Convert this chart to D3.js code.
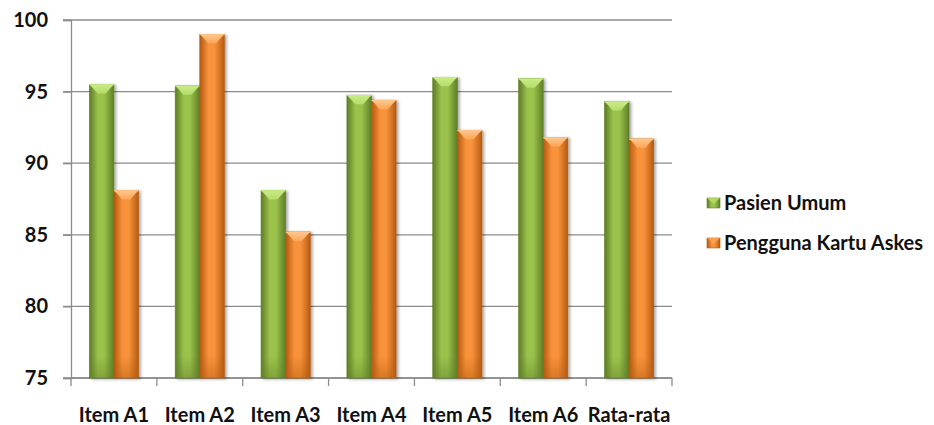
<!DOCTYPE html>
<html>
<head>
<meta charset="utf-8">
<script src="https://cdn.jsdelivr.net/npm/d3@7/dist/d3.min.js"></script>
<style>
  html, body { margin: 0; padding: 0; background: #ffffff; }
  svg { display: block; }
  text { font-family: Lato, "Open Sans", "DejaVu Sans", sans-serif; font-weight: 700; fill: #111; }
</style>
</head>
<body>
<svg id="chart" width="934" height="425"></svg>
<script>
// Survey scores per item for two patient groups
const categories = ["Item A1", "Item A2", "Item A3", "Item A4", "Item A5", "Item A6", "Rata-rata"];
const seriesNames = ["Pasien Umum", "Pengguna Kartu Askes"];
const pasienUmum = [95.5, 95.4, 88.1, 94.75, 96.0, 95.9, 94.3];
const penggunaAskes = [88.1, 99.0, 85.2, 94.4, 92.3, 91.8, 91.7];
const yTicks = [75, 80, 85, 90, 95, 100];

const seriesValues = [pasienUmum, penggunaAskes];
const palettes = [
  { edge: "#5f7f26", mid: "#9bc24c", light: "#b5dc6a", top: "#c9ec86", dark: "#6e9030" },
  { edge: "#b25a10", mid: "#f8923a", light: "#fba55a", top: "#fdc88c", dark: "#c8691c" }
];

const svg = d3.select("#chart");
const margin = { left: 71, right: 262, top: 20, bottom: 47 };
const W = 934, H = 425;
const x0 = d3.scaleBand().domain(categories).range([margin.left, W - margin.right]).paddingInner(0).paddingOuter(0);
const x1 = d3.scaleBand().domain(seriesNames).range([0, x0.bandwidth()]).paddingOuter(0.745).paddingInner(0);
const y = d3.scaleLinear().domain([75, 100]).range([H - margin.bottom, margin.top]);

const defs = svg.append("defs");
palettes.forEach((p, i) => {
  const g = defs.append("linearGradient").attr("id", "body" + i).attr("x1", 0).attr("x2", 1).attr("y1", 0).attr("y2", 0);
  g.append("stop").attr("offset", 0).attr("stop-color", p.edge);
  g.append("stop").attr("offset", 0.1).attr("stop-color", p.dark);
  g.append("stop").attr("offset", 0.35).attr("stop-color", p.mid);
  g.append("stop").attr("offset", 0.6).attr("stop-color", p.mid);
  g.append("stop").attr("offset", 0.9).attr("stop-color", p.dark);
  g.append("stop").attr("offset", 1).attr("stop-color", p.edge);
  const b = defs.append("linearGradient").attr("id", "foot" + i).attr("x1", 0).attr("x2", 0).attr("y1", 0).attr("y2", 1);
  b.append("stop").attr("offset", 0).attr("stop-color", p.edge).attr("stop-opacity", 0);
  b.append("stop").attr("offset", 1).attr("stop-color", p.edge).attr("stop-opacity", 0.45);
  const t = defs.append("linearGradient").attr("id", "cap" + i).attr("x1", 0).attr("x2", 0).attr("y1", 0).attr("y2", 1);
  t.append("stop").attr("offset", 0).attr("stop-color", p.top);
  t.append("stop").attr("offset", 1).attr("stop-color", p.light);
});
const shadow = defs.append("filter").attr("id", "shadow").attr("x", "-20%").attr("y", "-5%").attr("width", "160%").attr("height", "115%");
shadow.append("feGaussianBlur").attr("in", "SourceAlpha").attr("stdDeviation", 1.6);
shadow.append("feOffset").attr("dx", 2).attr("dy", 1).attr("result", "off");
shadow.append("feComponentTransfer").append("feFuncA").attr("type", "linear").attr("slope", 0.35);
const merge = shadow.append("feMerge");
merge.append("feMergeNode");
merge.append("feMergeNode").attr("in", "SourceGraphic");

// horizontal gridlines
svg.append("g").selectAll("line").data(yTicks).join("line")
  .attr("x1", margin.left - 8).attr("x2", W - margin.right)
  .attr("y1", d => y(d)).attr("y2", d => y(d))
  .attr("stroke", "#8c8c8c").attr("stroke-width", 1.3);

// axes
const yAxis = d3.axisLeft(y).tickValues(yTicks).tickSize(8).tickPadding(15);
svg.append("g").attr("transform", `translate(${margin.left},0)`).call(yAxis)
  .call(g => g.select(".domain").attr("stroke", "#8c8c8c").attr("stroke-width", 1.3))
  .call(g => g.selectAll(".tick line").attr("stroke", "#8c8c8c").attr("stroke-width", 1.3))
  .call(g => g.selectAll(".tick text").attr("font-size", 20).attr("fill", "#111")
    .style("font-family", "Lato, 'Open Sans', sans-serif").style("font-weight", 700));

const xTickPos = categories.map(c => x0(c)).concat([x0.range()[1]]);
svg.append("g").selectAll("line").data(xTickPos).join("line")
  .attr("x1", d => d).attr("x2", d => d)
  .attr("y1", y(75)).attr("y2", y(75) + 8)
  .attr("stroke", "#8c8c8c").attr("stroke-width", 1.3);
svg.append("line").attr("x1", margin.left).attr("x2", W - margin.right)
  .attr("y1", y(75)).attr("y2", y(75)).attr("stroke", "#8c8c8c").attr("stroke-width", 1.3);
svg.append("g").selectAll("text").data(categories).join("text")
  .attr("x", d => x0(d) + x0.bandwidth() / 2).attr("y", 422)
  .attr("text-anchor", "middle").attr("font-size", 20).text(d => d);

// bars
const bars = svg.append("g");
categories.forEach((c, ci) => {
  seriesNames.forEach((s, si) => {
    const v = seriesValues[si][ci];
    const bx = x0(c) + x1(s), bw = x1.bandwidth();
    const top = y(v), bottom = y(75);
    const g = bars.append("g").attr("filter", "url(#shadow)");
    g.append("rect").attr("x", bx).attr("y", top).attr("width", bw).attr("height", bottom - top)
      .attr("fill", `url(#body${si})`).attr("stroke", palettes[si].edge).attr("stroke-width", 0.6);
    g.append("rect").attr("x", bx + 0.5).attr("y", bottom - 22).attr("width", bw - 1).attr("height", 22)
      .attr("fill", `url(#foot${si})`);
    // bevelled cap
    const bev = 9;
    g.append("path")
      .attr("d", `M${bx},${top} L${bx + bw},${top} L${bx + bw - 3},${top + 3} L${bx + bw / 2 + 4},${top + bev} L${bx + bw / 2 - 4},${top + bev} L${bx + 3},${top + 3} Z`)
      .attr("fill", `url(#cap${si})`);
    g.append("line").attr("x1", bx).attr("x2", bx + bw).attr("y1", top + 0.3).attr("y2", top + 0.3)
      .attr("stroke", palettes[si].top).attr("stroke-width", 1);
  });
});

// legend
const legend = svg.append("g");
seriesNames.forEach((s, i) => {
  const ly = 203 + i * 40;
  legend.append("rect").attr("x", 707).attr("y", ly - 5).attr("width", 13).attr("height", 10)
    .attr("fill", `url(#body${i})`).attr("stroke", palettes[i].edge).attr("stroke-width", 0.6);
  legend.append("path").attr("d", `M707,${ly - 5} L720,${ly - 5} L713.5,${ly + 1}Z`).attr("fill", palettes[i].light).attr("opacity", 0.85);
  legend.append("text").attr("x", 724).attr("y", ly).attr("dy", "0.35em").attr("font-size", 20).text(s);
});
</script>
</body>
</html>
